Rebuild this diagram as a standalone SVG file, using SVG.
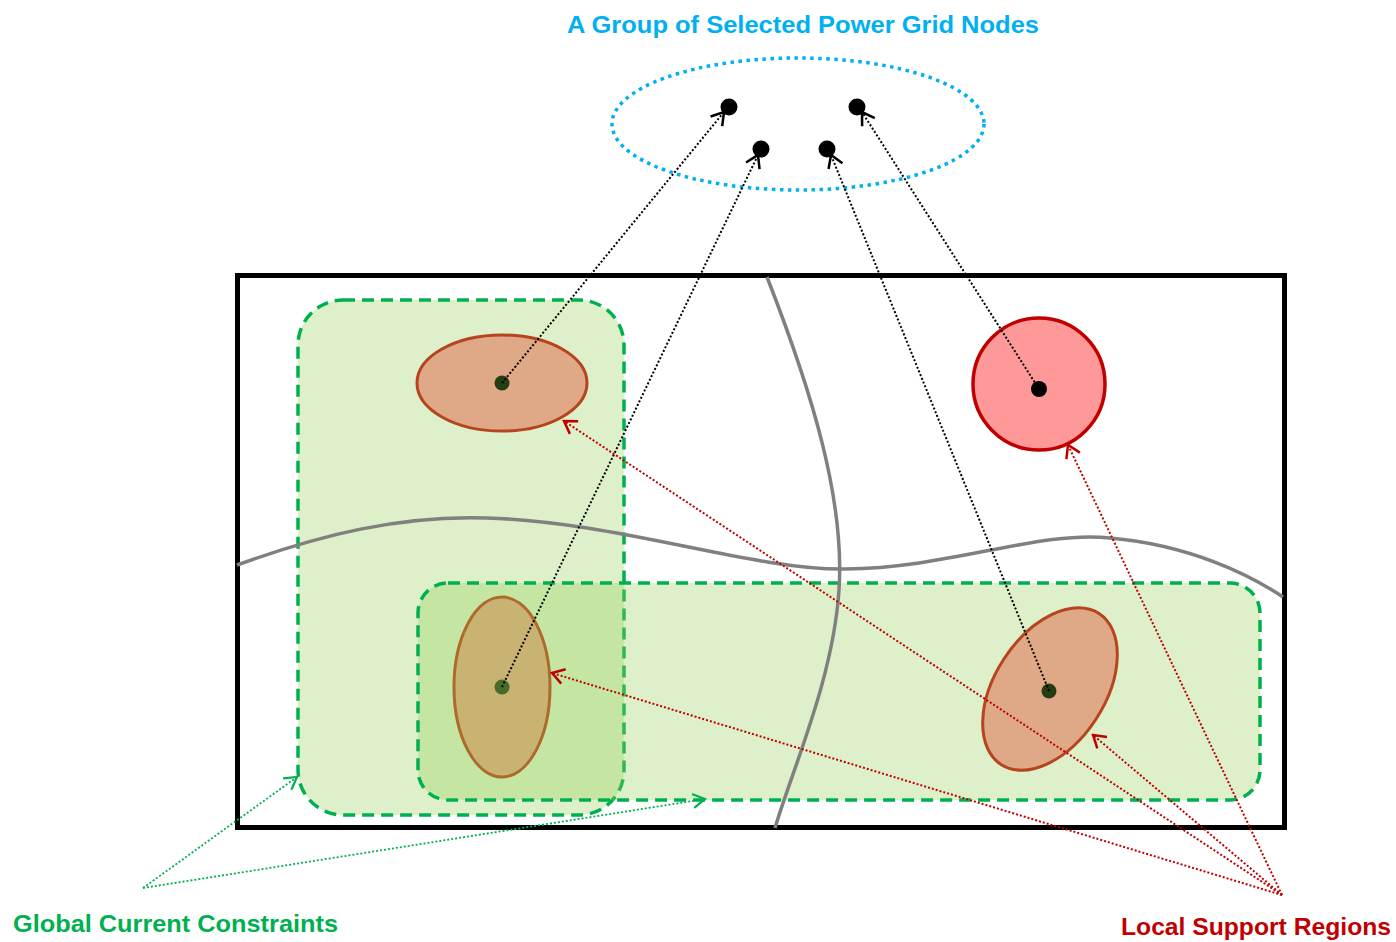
<svg xmlns="http://www.w3.org/2000/svg" width="1396" height="942" viewBox="0 0 1396 942">
  <style>
    .lbl { font-family: "Liberation Sans", Arial, sans-serif; font-weight: bold; }
    .frame { fill: none; stroke: #000; stroke-width: 5; }
    .zone { fill: #92D050; fill-opacity: 0.31; stroke: #00B050; stroke-width: 3.5; stroke-dasharray: 12 7; }
    .cut { fill: none; stroke: #808080; stroke-width: 3.5; }
    .node { fill: #000; }
    .link { fill: none; stroke: #000; stroke-width: 2; stroke-dasharray: 2 2; marker-end: url(#arrBlack); }
    .sup { fill: none; stroke: #C00000; stroke-width: 2; stroke-dasharray: 2 2; marker-end: url(#arrRed); }
    .glob { fill: none; stroke: #00B050; stroke-width: 1.8; stroke-dasharray: 2 2; marker-end: url(#arrGreen); }
  </style>
  <defs>
    <marker id="arrBlack" markerUnits="userSpaceOnUse" viewBox="0 0 16 18" refX="14" refY="9" markerWidth="16" markerHeight="18" orient="auto">
      <path d="M2,1.5 L14,9 L2,16.5" fill="none" stroke="#000" stroke-width="2.5"/>
    </marker>
    <marker id="arrRed" markerUnits="userSpaceOnUse" viewBox="0 0 16 18" refX="14" refY="9" markerWidth="16" markerHeight="18" orient="auto">
      <path d="M2,1.5 L14,9 L2,16.5" fill="none" stroke="#C00000" stroke-width="2.5"/>
    </marker>
    <marker id="arrGreen" markerUnits="userSpaceOnUse" viewBox="0 0 16 18" refX="14" refY="9" markerWidth="16" markerHeight="18" orient="auto">
      <path d="M2,2 L14,9 L2,16" fill="none" stroke="#00B050" stroke-width="2.2"/>
    </marker>
  </defs>

  <rect width="1396" height="942" fill="#fff"/>

  <!-- selected grid nodes -->
  <g id="node-group">
    <text class="lbl" x="803" y="33" font-size="24" fill="#00B0F0" text-anchor="middle" textLength="472" lengthAdjust="spacingAndGlyphs">A Group of Selected Power Grid Nodes</text>
    <ellipse cx="798" cy="124" rx="186" ry="66" fill="none" stroke="#00B0F0" stroke-width="3.5" stroke-dasharray="3.5 4.5"/>
    <circle class="node" cx="729" cy="107" r="8.5"/>
    <circle class="node" cx="761" cy="149" r="8.5"/>
    <circle class="node" cx="827" cy="149" r="8.5"/>
    <circle class="node" cx="857" cy="107" r="8.5"/>
  </g>

  <!-- grid area -->
  <g id="grid-area">
    <rect class="frame" x="237.5" y="275.5" width="1047" height="552"/>
  </g>

  <!-- global constraint zones -->
  <g id="zone-left">
    <rect class="zone" x="298" y="300" width="326" height="515" rx="45" ry="45"/>
  </g>
  <g id="zone-bottom">
    <rect class="zone" x="418" y="583" width="842" height="217" rx="30" ry="30"/>
  </g>

  <!-- partition boundaries -->
  <g id="boundaries">
    <path class="cut" d="M767,277 C812,392 845,500 839,590 C833,680 792,770 775,828"/>
    <path class="cut" d="M237,565 C320,535 400,515 487,518 C620,522 750,570 845,569 C950,568 1040,530 1110,538 C1190,545 1250,575 1283,597"/>
  </g>

  <!-- local support regions -->
  <g id="region-top-left">
    <ellipse cx="502" cy="383" rx="85" ry="48" fill="#DFA886" stroke="#B5441F" stroke-width="3"/>
    <circle cx="502" cy="383" r="7.5" fill="#263D14"/>
  </g>
  <g id="region-bottom-left">
    <ellipse cx="502" cy="687" rx="48" ry="90" fill="#C8B372" stroke="#AE6A2A" stroke-width="3"/>
    <circle cx="502" cy="687" r="7.5" fill="#4A6A2A"/>
  </g>
  <g id="region-right">
    <ellipse cx="1050" cy="689" rx="90" ry="55" transform="rotate(-57 1050 689)" fill="#DFA886" stroke="#B5441F" stroke-width="3"/>
    <circle cx="1049" cy="691" r="7.5" fill="#263D14"/>
  </g>
  <g id="region-circle">
    <circle cx="1039" cy="384" r="66" fill="#FF9999" stroke="#C00000" stroke-width="3.5"/>
    <circle class="node" cx="1039" cy="389" r="8"/>
  </g>

  <!-- connectors -->
  <g id="connectors">
    <line class="link" x1="502" y1="383" x2="724" y2="112"/>
    <line class="link" x1="502" y1="687" x2="758" y2="155"/>
    <line class="link" x1="1049" y1="691" x2="831" y2="155"/>
    <line class="link" x1="1039" y1="389" x2="862" y2="112"/>

    <line class="sup" x1="1282" y1="895" x2="564" y2="421"/>
    <line class="sup" x1="1282" y1="895" x2="552" y2="673"/>
    <line class="sup" x1="1282" y1="895" x2="1093" y2="735"/>
    <line class="sup" x1="1282" y1="895" x2="1068" y2="445"/>

    <line class="glob" x1="143" y1="888" x2="297" y2="777"/>
    <line class="glob" x1="143" y1="888" x2="705" y2="799"/>
  </g>

  <!-- captions -->
  <g id="caption-global">
    <text class="lbl" x="13" y="932" font-size="24" fill="#00B050" textLength="325" lengthAdjust="spacingAndGlyphs">Global Current Constraints</text>
  </g>
  <g id="caption-local">
    <text class="lbl" x="1121" y="935" font-size="24" fill="#C00000" textLength="270" lengthAdjust="spacingAndGlyphs">Local Support Regions</text>
  </g>
</svg>
